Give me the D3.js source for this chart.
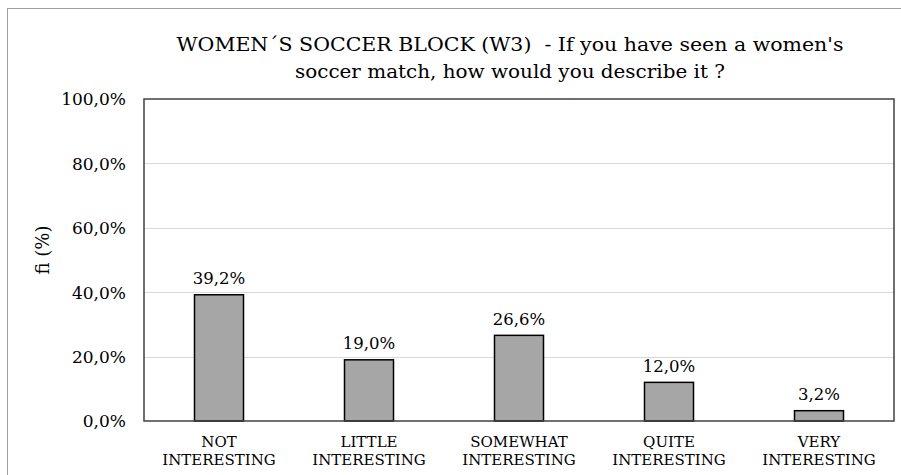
<!DOCTYPE html>
<html><head><meta charset="utf-8">
<script src="https://cdn.jsdelivr.net/npm/d3@7"></script>
<style>body{margin:0;background:#fff}svg{display:block}</style>
</head><body>
<svg id="c" width="901" height="475"></svg>
<script>
const categories = [["NOT","INTERESTING"],["LITTLE","INTERESTING"],["SOMEWHAT","INTERESTING"],["QUITE","INTERESTING"],["VERY","INTERESTING"]];
const values = [39.2, 19.0, 26.6, 12.0, 3.2];
const yTicks = [0, 20, 40, 60, 80, 100];
const titleLines = ["WOMEN\u00B4S SOCCER BLOCK (W3)  - If you have seen a women's", "soccer match, how would you describe it ?"];
const yTitle = "fi (%)";

const svg = d3.select("#c");
const font = "'DejaVu Serif','Liberation Serif','Times New Roman',serif";
const m = {l:144, r:894, t:99, b:421};

svg.append("rect").attr("x",7.5).attr("y",8.5).attr("width",905).attr("height",480)
  .attr("fill","#fff").attr("stroke","#a0a0a0").attr("stroke-width",1);

const x = d3.scaleBand().domain(d3.range(categories.length)).range([m.l, m.r]);
const y = d3.scaleLinear().domain([0,100]).range([m.b, m.t]);
const fmt = v => v.toFixed(1).replace(".", ",") + "%";

// gridlines
svg.append("g").selectAll("line").data(yTicks.filter(t=>t>0 && t<100)).join("line")
  .attr("x1",m.l).attr("x2",m.r).attr("y1",d=>Math.round(y(d))+0.5).attr("y2",d=>Math.round(y(d))+0.5)
  .attr("stroke","#d9d9d9").attr("stroke-width",1);

// y axis labels
const yAxis = d3.axisLeft(y).tickValues(yTicks).tickFormat(fmt).tickSize(0).tickPadding(18);
const ga = svg.append("g").attr("transform",`translate(${m.l},0)`).call(yAxis);
ga.select(".domain").remove();
ga.selectAll("text").attr("font-family",font).attr("font-size",17).attr("fill","#000").attr("dy","0.35em");

// bars
const bw = 49;
svg.append("g").selectAll("rect").data(values).join("rect")
  .attr("x",(d,i)=>x(i)+x.bandwidth()/2-bw/2).attr("width",bw)
  .attr("y",d=>y(d)).attr("height",d=>y(0)-y(d))
  .attr("fill","#a6a6a6").attr("stroke","#000").attr("stroke-width",1.5);

// data labels
svg.append("g").selectAll("text").data(values).join("text")
  .attr("x",(d,i)=>x(i)+x.bandwidth()/2).attr("y",d=>y(d)-10.5)
  .attr("text-anchor","middle").attr("font-family",font).attr("font-size",16.5).attr("fill","#000")
  .text(fmt);

// plot border
svg.append("rect").attr("x",m.l).attr("y",m.t).attr("width",m.r-m.l).attr("height",m.b-m.t)
  .attr("fill","none").attr("stroke","#404040").attr("stroke-width",1.5);

// category labels
const cg = svg.append("g").selectAll("text").data(categories).join("text")
  .attr("x",(d,i)=>x(i)+x.bandwidth()/2).attr("y",446.5)
  .attr("text-anchor","middle").attr("font-family",font).attr("font-size",15).attr("fill","#000");
cg.selectAll("tspan").data(d=>d).join("tspan")
  .attr("x",function(){return this.parentNode.getAttribute("x");})
  .attr("dy",(d,i)=>i?18.5:0).text(d=>d);

// title
const titleW = [667, 430];
svg.append("g").selectAll("text").data(titleLines).join("text")
  .attr("x",510).attr("y",(d,i)=>51+i*27)
  .attr("text-anchor","middle").attr("font-family",font).attr("font-size",19).attr("fill","#000")
  .attr("textLength",(d,i)=>titleW[i]).attr("lengthAdjust","spacingAndGlyphs")
  .style("white-space","pre").text(d=>d);

// y title
svg.append("text").attr("transform","translate(49,250) rotate(-90)")
  .attr("text-anchor","middle").attr("font-family",font).attr("font-size",18).attr("fill","#000")
  .text(yTitle);
</script>
</body></html>
